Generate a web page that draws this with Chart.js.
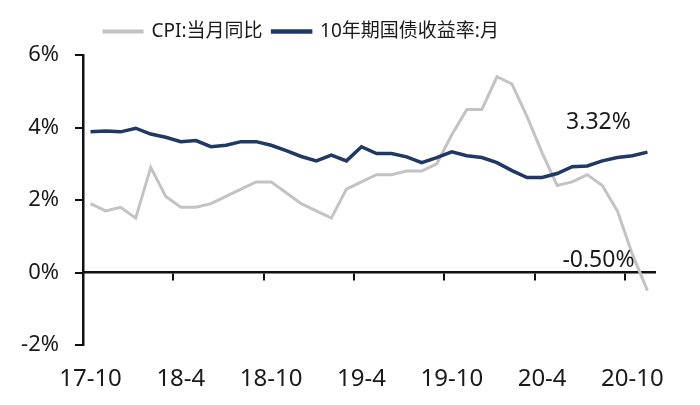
<!DOCTYPE html>
<html>
<head>
<meta charset="utf-8">
<script src="https://cdn.jsdelivr.net/npm/chart.js@4"></script>
<style>
  html, body { margin: 0; padding: 0; background: #fff; }
  #wrap { width: 700px; height: 405px; }
</style>
</head>
<body>
<div id="wrap"><canvas id="grafico" width="700" height="405"></canvas></div>
<script>
// meses 17-10 .. 20-11
const months = [
  '17-10','17-11','17-12',
  '18-1','18-2','18-3','18-4','18-5','18-6','18-7','18-8','18-9','18-10','18-11','18-12',
  '19-1','19-2','19-3','19-4','19-5','19-6','19-7','19-8','19-9','19-10','19-11','19-12',
  '20-1','20-2','20-3','20-4','20-5','20-6','20-7','20-8','20-9','20-10','20-11'
];
const tickLabels = ['17-10','18-4','18-10','19-4','19-10','20-4','20-10'];
const yTicks = [-2, 0, 2, 4, 6];

const cpi = [
  1.9, 1.7, 1.8,
  1.5, 2.9, 2.1, 1.8, 1.8, 1.9, 2.1, 2.3, 2.5, 2.5, 2.2, 1.9,
  1.7, 1.5, 2.3, 2.5, 2.7, 2.7, 2.8, 2.8, 3.0, 3.8, 4.5, 4.5,
  5.4, 5.2, 4.3, 3.3, 2.4, 2.5, 2.7, 2.4, 1.7, 0.5, -0.5
];
const bond10y = [
  3.88, 3.90, 3.88,
  3.98, 3.82, 3.73, 3.61, 3.64, 3.47, 3.51, 3.61, 3.61, 3.51, 3.36, 3.20,
  3.08, 3.24, 3.08, 3.47, 3.28, 3.28, 3.19, 3.03, 3.17, 3.33, 3.22, 3.17,
  3.03, 2.81, 2.62, 2.62, 2.73, 2.92, 2.94, 3.08, 3.17, 3.22, 3.32
];

const FONT = '"Noto Sans", "Noto Sans CJK SC", sans-serif';

// etiqueta del ultimo valor de cada serie
const lastValueLabel = {
  id: 'lastValueLabel',
  afterDatasetsDraw(chart) {
    const ctx = chart.ctx;
    ctx.save();
    ctx.font = '23px ' + FONT;
    ctx.fillStyle = '#1a1a1a';
    ctx.textAlign = 'center';
    ctx.textBaseline = 'middle';
    chart.data.datasets.forEach((ds, i) => {
      const meta = chart.getDatasetMeta(i);
      const pt = meta.data[meta.data.length - 1];
      const v = ds.data[ds.data.length - 1];
      ctx.fillText(v.toFixed(2) + '%', pt.x - 49, pt.y - 30);
    });
    ctx.restore();
  }
};

// mueve la leyenda un poco (a la izquierda y arriba)
const legendShift = {
  id: 'legendShift',
  afterLayout(chart) {
    const lg = chart.legend;
    if (!lg) return;
    lg.left -= 26; lg.right -= 26;
    lg.top -= 4; lg.bottom -= 4;
  }
};

const ctx = document.getElementById('grafico').getContext('2d');
new Chart(ctx, {
  type: 'line',
  data: {
    labels: months,
    datasets: [{
      label: 'CPI:当月同比',
      data: cpi,
      borderColor: '#c3c3c3',
      backgroundColor: '#c3c3c3',
      borderWidth: 3,
      pointRadius: 0,
      tension: 0,
      order: 2,
      xAxisID: 'x',
      yAxisID: 'y'
    }, {
      label: '10年期国债收益率:月',
      data: bond10y,
      borderColor: '#1f3864',
      backgroundColor: '#1f3864',
      borderWidth: 3.5,
      pointRadius: 0,
      tension: 0,
      order: 1,
      xAxisID: 'x',
      yAxisID: 'y'
    }]
  },
  options: {
    responsive: false,
    animation: false,
    layout: { padding: { top: 16, right: 45, bottom: 0, left: 0 } },
    plugins: {
      tooltip: { enabled: false },
      legend: {
        display: true,
        position: 'top',
        labels: {
          font: { family: FONT, size: 19 },
          color: '#1a1a1a',
          boxWidth: 38,
          boxHeight: 1,
          padding: 10,
          sort: (a, b) => a.datasetIndex - b.datasetIndex
        }
      }
    },
    scales: {
      x: {
        type: 'category',
        position: 'bottom',
        offset: true,
        grid: { display: false },
        border: { display: false },
        ticks: {
          autoSkip: false,
          maxRotation: 0,
          padding: 12,
          font: { family: FONT, size: 24 },
          color: '#1a1a1a',
          callback: (v, i) => tickLabels.includes(months[i]) ? months[i] : ''
        },
        afterFit: s => { s.height = 60; }
      },
      x0: {
        type: 'category',
        position: { y: 0 },
        offset: true,
        grid: {
          offset: true,
          drawOnChartArea: false,
          drawTicks: true,
          tickLength: 7,
          lineWidth: 2,
          color: c => (c.index % 6 === 0 && c.index < months.length) ? '#111' : 'rgba(0,0,0,0)'
        },
        border: { display: true, color: '#111', width: 2.5 },
        ticks: { display: false }
      },
      y: {
        min: yTicks[0],
        max: yTicks[yTicks.length - 1],
        afterBuildTicks: s => { s.ticks = yTicks.map(v => ({ value: v })); },
        grid: {
          drawOnChartArea: false,
          drawTicks: true,
          tickLength: 8,
          lineWidth: 2,
          color: '#111'
        },
        border: { display: true, color: '#111', width: 2.5 },
        ticks: {
          padding: 16,
          font: { family: FONT, size: 22 },
          color: '#1a1a1a',
          callback: v => v + '%'
        },
        afterFit: s => { s.width = 83; }
      }
    }
  },
  plugins: [lastValueLabel, legendShift]
});
</script>
</body>
</html>
